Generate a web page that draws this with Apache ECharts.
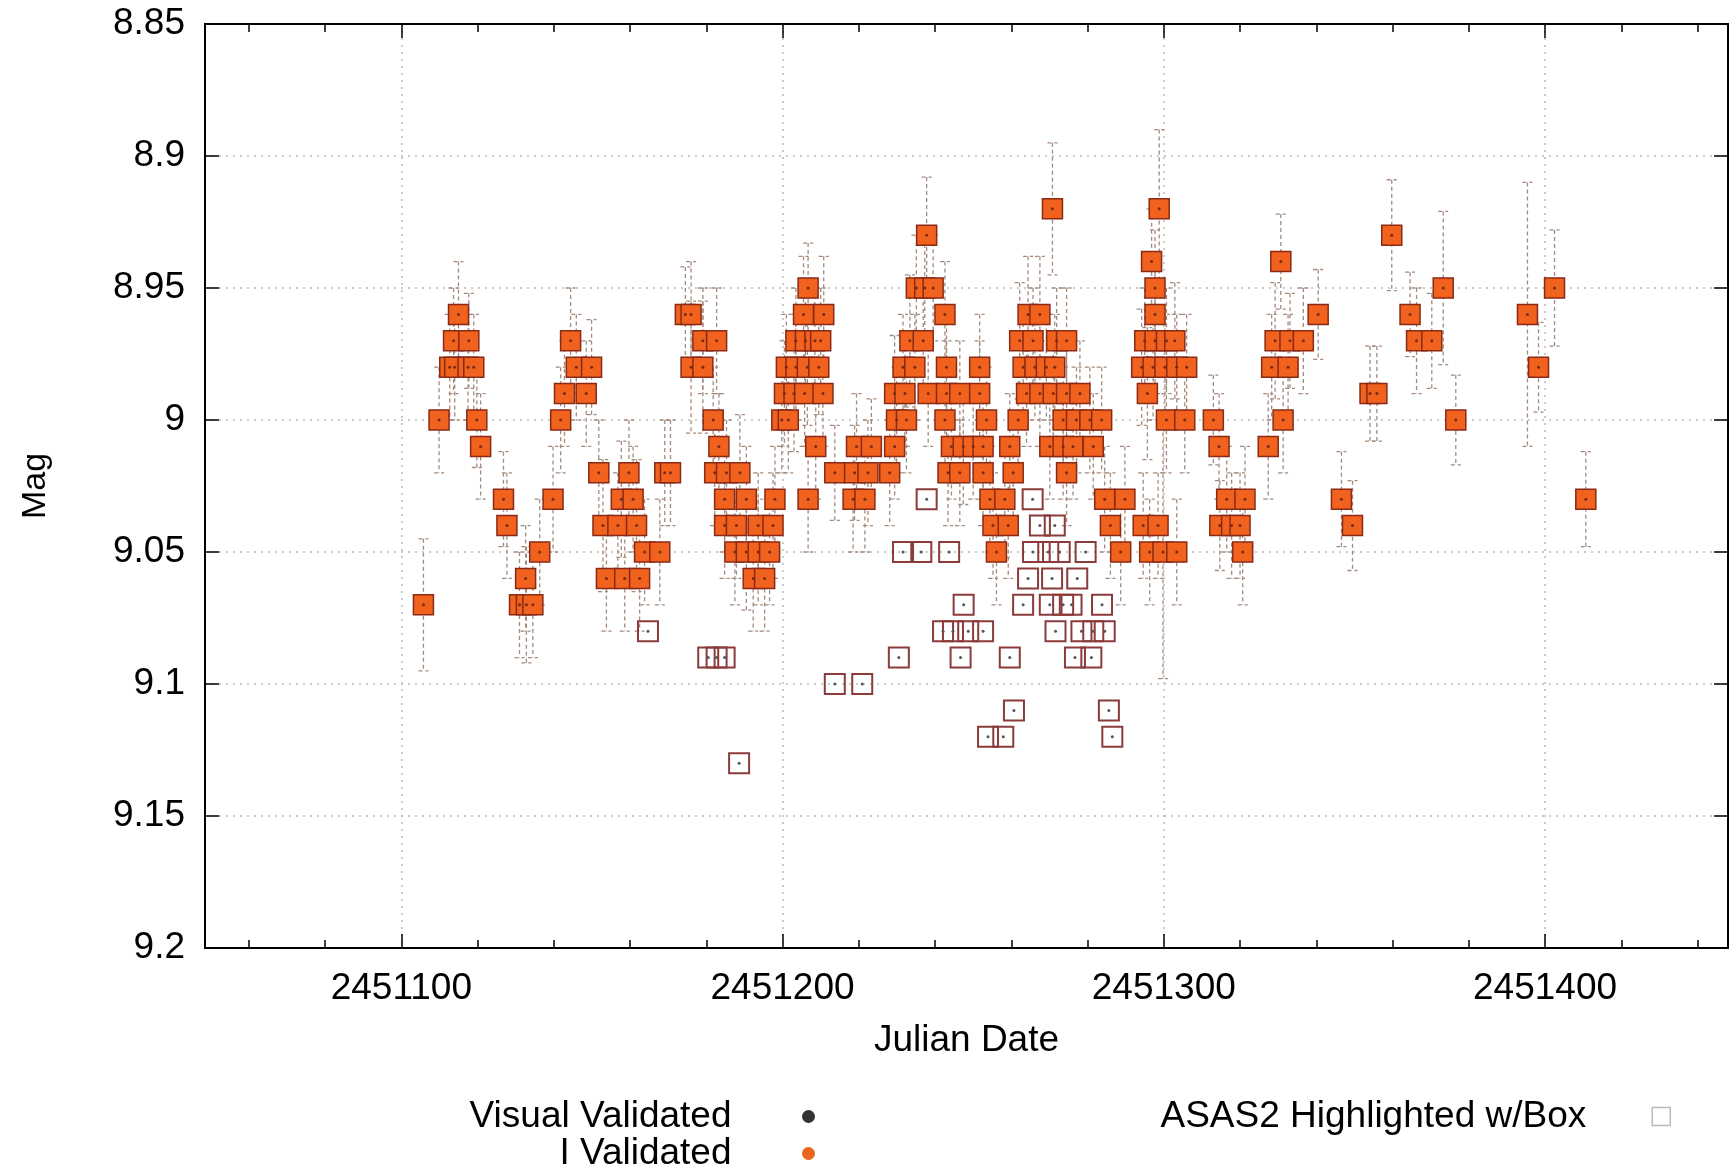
<!DOCTYPE html>
<html>
<head>
<meta charset="utf-8">
<style>
html, body { margin: 0; padding: 0; background: #fff; }
#main { width: 1729px; height: 1172px; }
</style>
<script src="https://cdn.jsdelivr.net/npm/echarts@6/dist/echarts.min.js"></script>
</head>
<body>
<div id="main"></div>
<script>
// I-band validated observations (Julian Date, magnitude, error)
var iJd = [
  2451105.8, 2451109.9, 2451112.7, 2451113.7, 2451114.0, 2451115.0, 2451117.5, 2451117.7, 2451119.0, 2451119.8,
  2451120.8, 2451126.8, 2451127.7, 2451131.0, 2451132.6, 2451132.8, 2451134.5, 2451136.3, 2451139.8, 2451141.8,
  2451142.8, 2451144.4, 2451145.9, 2451148.5, 2451149.9, 2451151.8, 2451152.9, 2451153.8, 2451156.8, 2451157.7,
  2451158.6, 2451159.7, 2451160.8, 2451161.7, 2451162.5, 2451163.8, 2451167.8, 2451169.1, 2451170.6, 2451174.5,
  2451176.0, 2451176.0, 2451179.1, 2451179.1, 2451181.8, 2451182.2, 2451182.7, 2451183.3, 2451184.8, 2451184.8,
  2451185.3, 2451187.5, 2451187.9, 2451188.8, 2451190.5, 2451190.5, 2451192.3, 2451193.6, 2451193.6, 2451195.3,
  2451196.6, 2451197.5, 2451198.0, 2451199.8, 2451200.5, 2451201.0, 2451201.5, 2451203.0, 2451203.5, 2451203.5,
  2451205.5, 2451205.8, 2451206.0, 2451206.5, 2451206.7, 2451206.7, 2451208.5, 2451208.7, 2451209.5, 2451210.0,
  2451210.6, 2451210.8, 2451213.7, 2451218.5, 2451218.9, 2451219.4, 2451221.6, 2451222.4, 2451223.3, 2451228.1,
  2451229.4, 2451229.4, 2451229.9, 2451231.6, 2451232.1, 2451232.5, 2451233.4, 2451234.7, 2451235.1, 2451236.9,
  2451237.3, 2451237.8, 2451238.2, 2451239.5, 2451242.6, 2451242.6, 2451243.0, 2451243.0, 2451243.4, 2451244.3,
  2451246.5, 2451246.5, 2451247.4, 2451250.0, 2451251.7, 2451251.7, 2451252.6, 2451252.6, 2451253.5, 2451254.4,
  2451255.2, 2451256.1, 2451258.3, 2451259.2, 2451259.6, 2451260.5, 2451261.8, 2451262.2, 2451263.1, 2451264.0,
  2451264.4, 2451265.7, 2451266.2, 2451267.5, 2451267.5, 2451269.2, 2451270.1, 2451270.8, 2451271.0, 2451271.4,
  2451271.9, 2451273.6, 2451273.6, 2451274.5, 2451274.5, 2451274.5, 2451276.2, 2451277.1, 2451278.0, 2451280.6,
  2451281.5, 2451283.7, 2451284.5, 2451286.0, 2451288.7, 2451289.8, 2451294.2, 2451294.6, 2451295.0, 2451295.7,
  2451296.3, 2451296.8, 2451297.2, 2451297.7, 2451297.7, 2451297.7, 2451298.5, 2451298.8, 2451299.8, 2451300.3,
  2451300.7, 2451300.7, 2451302.9, 2451303.4, 2451303.4, 2451305.5, 2451306.0, 2451313.0, 2451314.5, 2451314.7,
  2451316.5, 2451317.8, 2451320.0, 2451320.7, 2451321.3, 2451327.4, 2451328.3, 2451329.2, 2451330.7, 2451331.3,
  2451332.6, 2451333.1, 2451336.6, 2451340.5, 2451346.6, 2451349.5, 2451354.1, 2451355.9, 2451359.8, 2451364.6,
  2451366.3, 2451370.3, 2451373.3, 2451376.6, 2451395.4, 2451398.3, 2451402.5, 2451410.7
];
var iMag = [
  9.07, 9.00, 8.98, 8.97, 8.98, 8.96, 8.98, 8.97, 8.98, 9.00,
  9.01, 9.03, 9.04, 9.07, 9.06, 9.07, 9.07, 9.05, 9.03, 9.00,
  8.99, 8.97, 8.98, 8.99, 8.98, 9.02, 9.04, 9.06, 9.04, 9.03,
  9.06, 9.02, 9.03, 9.04, 9.06, 9.05, 9.05, 9.02, 9.02, 8.96,
  8.96, 8.98, 8.97, 8.98, 9.00, 9.02, 8.97, 9.01, 9.03, 9.04,
  9.02, 9.05, 9.04, 9.02, 9.03, 9.05, 9.06, 9.04, 9.05, 9.06,
  9.05, 9.04, 9.03, 9.00, 8.99, 8.98, 9.00, 8.99, 8.97, 8.98,
  8.96, 8.99, 8.97, 8.98, 8.95, 9.03, 8.97, 9.01, 8.98, 8.97,
  8.99, 8.96, 9.02, 9.03, 9.02, 9.01, 9.03, 9.02, 9.01, 9.02,
  9.01, 8.99, 9.00, 8.98, 8.99, 9.00, 8.97, 8.98, 8.95, 8.97,
  8.95, 8.93, 8.99, 8.95, 8.96, 9.00, 8.98, 8.99, 9.02, 9.01,
  8.99, 9.02, 9.01, 9.01, 8.98, 8.99, 9.01, 9.02, 9.00, 9.03,
  9.04, 9.05, 9.03, 9.04, 9.01, 9.02, 9.00, 8.97, 8.98, 8.99,
  8.96, 8.97, 8.98, 8.96, 8.99, 8.98, 9.01, 8.92, 8.99, 8.98,
  8.97, 9.00, 9.01, 8.97, 8.99, 9.02, 9.01, 9.00, 8.99, 9.00,
  9.01, 9.00, 9.03, 9.04, 9.05, 9.03, 8.98, 9.04, 8.97, 8.99,
  9.05, 8.94, 8.98, 8.95, 8.96, 8.97, 9.04, 8.92, 9.05, 8.98,
  8.97, 9.00, 8.97, 8.98, 9.05, 9.00, 8.98, 9.00, 9.01, 9.04,
  9.03, 9.04, 9.04, 9.05, 9.03, 9.01, 8.98, 8.97, 8.94, 9.00,
  8.98, 8.97, 8.97, 8.96, 9.03, 9.04, 8.99, 8.99, 8.93, 8.96,
  8.97, 8.97, 8.95, 9.00, 8.96, 8.98, 8.95, 9.03
];
var iErr = [
  0.025, 0.02, 0.02, 0.02, 0.02, 0.02, 0.02, 0.018, 0.02, 0.018,
  0.02, 0.018, 0.02, 0.02, 0.02, 0.022, 0.02, 0.02, 0.02, 0.02,
  0.02, 0.02, 0.02, 0.02, 0.018, 0.02, 0.025, 0.02, 0.02, 0.022,
  0.02, 0.02, 0.02, 0.025, 0.02, 0.02, 0.02, 0.02, 0.02, 0.018,
  0.02, 0.025, 0.02, 0.025, 0.02, 0.02, 0.02, 0.02, 0.02, 0.02,
  0.02, 0.02, 0.02, 0.022, 0.02, 0.022, 0.02, 0.02, 0.02, 0.02,
  0.02, 0.02, 0.02, 0.02, 0.02, 0.02, 0.02, 0.022, 0.02, 0.02,
  0.022, 0.02, 0.02, 0.022, 0.017, 0.02, 0.02, 0.02, 0.018, 0.02,
  0.02, 0.022, 0.018, 0.02, 0.018, 0.02, 0.02, 0.02, 0.018, 0.02,
  0.02, 0.022, 0.02, 0.02, 0.02, 0.02, 0.025, 0.02, 0.02, 0.02,
  0.022, 0.022, 0.02, 0.02, 0.02, 0.02, 0.02, 0.02, 0.02, 0.02,
  0.02, 0.02, 0.022, 0.02, 0.02, 0.02, 0.02, 0.02, 0.02, 0.02,
  0.02, 0.02, 0.022, 0.02, 0.02, 0.02, 0.02, 0.022, 0.022, 0.02,
  0.022, 0.02, 0.02, 0.022, 0.02, 0.02, 0.02, 0.025, 0.02, 0.02,
  0.02, 0.02, 0.02, 0.02, 0.02, 0.02, 0.02, 0.02, 0.02, 0.02,
  0.02, 0.02, 0.02, 0.02, 0.02, 0.02, 0.022, 0.02, 0.02, 0.025,
  0.02, 0.02, 0.02, 0.022, 0.02, 0.02, 0.02, 0.03, 0.048, 0.02,
  0.02, 0.02, 0.022, 0.02, 0.02, 0.02, 0.02, 0.017, 0.02, 0.017,
  0.02, 0.02, 0.02, 0.02, 0.02, 0.02, 0.02, 0.022, 0.018, 0.02,
  0.02, 0.018, 0.02, 0.017, 0.018, 0.017, 0.018, 0.018, 0.021, 0.016,
  0.02, 0.018, 0.029, 0.017, 0.05, 0.017, 0.022, 0.018
];

// ASAS2 points highlighted with an open box
var asasJd = [
  2451164.7, 2451180.5, 2451182.7, 2451184.8, 2451188.6, 2451213.7, 2451220.9, 2451230.5, 2451231.6, 2451236.4,
  2451237.8, 2451242.1, 2451243.7, 2451244.7, 2451246.7, 2451247.5, 2451248.7, 2451252.6, 2451253.9, 2451257.9,
  2451259.6, 2451260.7, 2451263.1, 2451264.4, 2451265.6, 2451265.7, 2451267.5, 2451269.7, 2451270.1, 2451270.7,
  2451271.4, 2451271.6, 2451272.7, 2451273.6, 2451275.8, 2451276.7, 2451277.3, 2451278.4, 2451279.5, 2451281.0,
  2451281.5, 2451283.8, 2451284.5, 2451285.6, 2451286.5
];
var asasMag = [
  9.08, 9.09, 9.09, 9.09, 9.13, 9.10, 9.10, 9.09, 9.05, 9.05,
  9.03, 9.08, 9.05, 9.08, 9.09, 9.07, 9.08, 9.08, 9.12, 9.12,
  9.09, 9.11, 9.07, 9.06, 9.03, 9.05, 9.04, 9.05, 9.07, 9.06,
  9.04, 9.08, 9.05, 9.07, 9.07, 9.09, 9.06, 9.08, 9.05, 9.09,
  9.08, 9.07, 9.08, 9.11, 9.12
];

var xMajor = [2451100, 2451200, 2451300, 2451400];
var xMinor = [2451060, 2451080, 2451120, 2451140, 2451160, 2451180, 2451220, 2451240,
              2451260, 2451280, 2451320, 2451340, 2451360, 2451380, 2451420, 2451440];
var xMin = 2451048.5, xMax = 2451448;

var font = "'Liberation Sans', Arial, Helvetica, sans-serif";

var chartDom = document.getElementById('main');
var myChart = echarts.init(chartDom);
var option;

var iData = iJd.map(function (x, i) { return [x, iMag[i]]; });
var errData = iJd.map(function (x, i) { return [x, iMag[i], iErr[i]]; });
var asasData = asasJd.map(function (x, i) { return [x, asasMag[i]]; });

function xAxisDef(pos, ticks, len, withLabels, grid) {
  return {
    type: 'value',
    position: pos,
    min: xMin,
    max: xMax,
    name: withLabels ? 'Julian Date' : '',
    nameLocation: 'middle',
    nameGap: 74,
    nameTextStyle: { fontSize: 37, color: '#000', fontFamily: font, verticalAlign: 'top' },
    axisLine: { show: true, onZero: false, lineStyle: { color: '#000', width: 2 } },
    axisTick: { show: true, inside: true, length: len, customValues: ticks, lineStyle: { color: '#000', width: 1.5 } },
    axisLabel: {
      show: withLabels, customValues: ticks, margin: 22, fontSize: 37, color: '#000', fontFamily: font,
      formatter: function (v) { return String(v); }
    },
    splitLine: { show: grid, lineStyle: { color: '#bbb', width: 1.5, type: [2, 5] } }
  };
}

function errorBar(params, api) {
  var x = api.value(0), y = api.value(1), e = api.value(2);
  var a = api.coord([x, y - e]);
  var b = api.coord([x, y + e]);
  var style = { stroke: '#a48a7c', lineWidth: 1.3, lineDash: [4, 3], fill: null };
  return {
    type: 'group',
    children: [
      { type: 'line', shape: { x1: a[0], y1: a[1], x2: b[0], y2: b[1] }, style: style },
      { type: 'line', shape: { x1: a[0] - 5, y1: a[1], x2: a[0] + 5, y2: a[1] }, style: style },
      { type: 'line', shape: { x1: b[0] - 5, y1: b[1], x2: b[0] + 5, y2: b[1] }, style: style }
    ]
  };
}

option = {
  animation: false,
  backgroundColor: '#fff',
  textStyle: { fontFamily: font },
  grid: { left: 205, right: 1, top: 24, bottom: 224 },
  legend: [
    {
      orient: 'vertical', align: 'right', right: 914, top: 1098, padding: 0,
      itemWidth: 144, itemHeight: 13, itemGap: 0, selectedMode: false,
      textStyle: { fontSize: 37, lineHeight: 36, color: '#000', fontFamily: font },
      data: [
        { name: 'Visual Validated', icon: 'circle', itemStyle: { color: '#000', borderWidth: 0 } },
        { name: 'I Validated', icon: 'circle', itemStyle: { color: '#e8661e', borderWidth: 0 } }
      ]
    },
    {
      orient: 'vertical', align: 'right', right: 58, top: 1098, padding: 0,
      itemWidth: 140, itemHeight: 18, itemGap: 0, selectedMode: false,
      textStyle: { fontSize: 37, lineHeight: 36, color: '#000', fontFamily: font },
      data: [
        { name: 'ASAS2 Highlighted w/Box', icon: 'path://M0 0H10V10H0Z',
          itemStyle: { color: 'rgba(0,0,0,0)', borderColor: '#bbb', borderWidth: 1.5 } }
      ]
    }
  ],
  xAxis: [
    xAxisDef('bottom', xMajor, 14, true, true),
    xAxisDef('bottom', xMinor, 8, false, false),
    xAxisDef('top', xMajor, 14, false, false),
    xAxisDef('top', xMinor, 8, false, false)
  ],
  yAxis: [
    {
      type: 'value', inverse: true, min: 8.85, max: 9.2, interval: 0.05,
      name: 'Mag', nameLocation: 'middle', nameGap: 152,
      nameTextStyle: { fontSize: 34, color: '#000', fontFamily: font },
      axisLine: { show: true, onZero: false, lineStyle: { color: '#000', width: 2 } },
      axisTick: { show: true, inside: true, length: 14, lineStyle: { color: '#000', width: 1.5 } },
      axisLabel: { margin: 20, fontSize: 37, color: '#000', fontFamily: font },
      splitLine: { show: true, lineStyle: { color: '#bbb', width: 1.5, type: [2, 5] } }
    },
    {
      type: 'value', position: 'right', inverse: true, min: 8.85, max: 9.2, interval: 0.05,
      axisLine: { show: true, onZero: false, lineStyle: { color: '#000', width: 2 } },
      axisTick: { show: true, inside: true, length: 14, lineStyle: { color: '#000', width: 1.5 } },
      axisLabel: { show: false },
      splitLine: { show: false }
    }
  ],
  series: [
    {
      name: 'I errors',
      type: 'custom',
      renderItem: errorBar,
      data: errData,
      silent: true,
      z: 1
    },
    {
      name: 'ASAS2 Highlighted w/Box',
      type: 'scatter',
      symbol: 'rect',
      symbolSize: 20,
      data: asasData,
      itemStyle: { color: 'rgba(255,255,255,0)', borderColor: '#8b3b3b', borderWidth: 2, opacity: 1 },
      z: 2
    },
    {
      name: 'I Validated',
      type: 'scatter',
      symbol: 'rect',
      symbolSize: 20,
      data: iData,
      itemStyle: { color: '#f0621e', borderColor: '#8a2a16', borderWidth: 1.5, opacity: 1 },
      z: 3
    },
    {
      name: 'I centres',
      type: 'scatter',
      symbolSize: 3,
      data: iData,
      silent: true,
      itemStyle: { color: '#7a2a12', opacity: 1 },
      z: 4
    },
    {
      name: 'ASAS2 centres',
      type: 'scatter',
      symbolSize: 3,
      data: asasData,
      silent: true,
      itemStyle: { color: '#555', opacity: 1 },
      z: 4
    },
    {
      name: 'Visual Validated',
      type: 'scatter',
      symbol: 'circle',
      data: [],
      itemStyle: { color: '#000' }
    }
  ]
};

option && myChart.setOption(option);
</script>
</body>
</html>
